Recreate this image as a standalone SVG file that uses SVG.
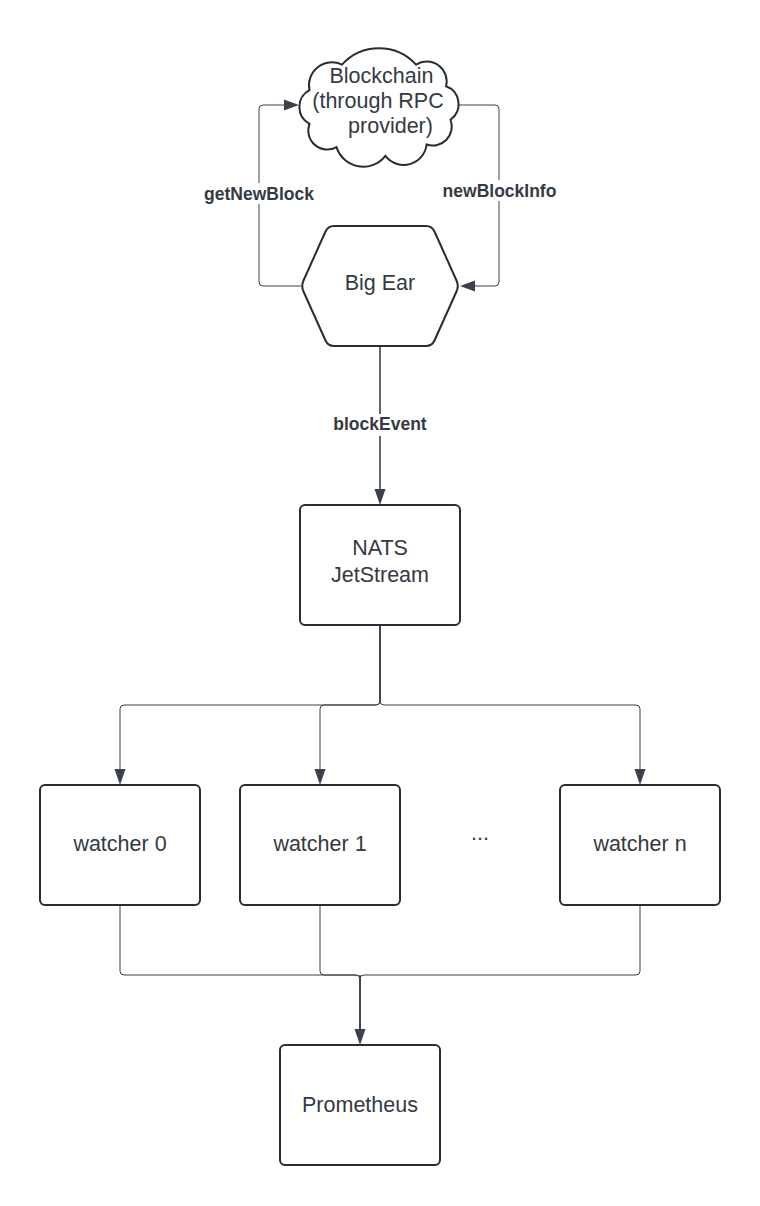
<svg xmlns="http://www.w3.org/2000/svg" width="760" height="1206" viewBox="0 0 760 1206">
<style>
.shape{fill:#ffffff;stroke:#282c33;stroke-width:2;}
.txt{font-family:"Liberation Sans",Arial,sans-serif;font-size:21.5px;fill:#333a44;text-anchor:middle;}
.lbl{font-family:"Liberation Sans",Arial,sans-serif;font-size:17.5px;font-weight:bold;fill:#333a44;text-anchor:middle;}
.conn{fill:none;stroke:#3a414a;stroke-width:1;}
.head{fill:#3a414a;stroke:none;}
</style>
<rect x="0" y="0" width="760" height="1206" fill="#ffffff"/>
<g id="connectors">
  <path class="conn" d="M301,286 H263 Q259,286 259,282 V109 Q259,105 263,105 H286"/>
  <polygon class="head" points="299,105 284,99.5 284,110.5"/>
  <path class="conn" d="M458,105 H495 Q499,105 499,109 V282 Q499,286 495,286 H474"/>
  <polygon class="head" points="460,286 475,280.5 475,291.5"/>
  <path class="conn" style="stroke-width:1.6" d="M380,346 V491"/>
  <polygon class="head" points="380,505 374.5,489 385.5,489"/>
  <path class="conn" style="stroke-width:1.4" d="M380,625 V701"/>
  <path class="conn" d="M380,625 V701 Q380,705 376,705 H124 Q120,705 120,709 V771"/>
  <polygon class="head" points="120,785 114.5,769 125.5,769"/>
  <path class="conn" d="M380,625 V701 Q380,705 376,705 H324 Q320,705 320,709 V771"/>
  <polygon class="head" points="320,785 314.5,769 325.5,769"/>
  <path class="conn" d="M380,625 V701 Q380,705 384,705 H636 Q640,705 640,709 V771"/>
  <polygon class="head" points="640,785 634.5,769 645.5,769"/>
  <path class="conn" d="M120,905 V971 Q120,975 124,975 H356 Q360,975 360,979 V1031"/>
  <path class="conn" d="M320,905 V971 Q320,975 324,975 H356 Q360,975 360,979 V1031"/>
  <path class="conn" d="M640,905 V971 Q640,975 636,975 H364 Q360,975 360,979 V1031"/>
  <path class="conn" style="stroke-width:1.4" d="M360,975 V1031"/>
  <polygon class="head" points="360,1045 354.5,1029 365.5,1029"/>
  <rect x="201" y="183" width="116" height="21" fill="#ffffff"/>
  <text class="lbl" x="259" y="199.5">getNewBlock</text>
  <rect x="440" y="180" width="119" height="21" fill="#ffffff"/>
  <text class="lbl" x="499.5" y="196.5">newBlockInfo</text>
  <rect x="330" y="414" width="100" height="22" fill="#ffffff"/>
  <text class="lbl" x="380" y="429.5">blockEvent</text>
</g>
<g id="blockchain">
  <path class="shape" d="M309.5,123.8 A19,19 0 0 1 309.5,90.2 A23,23 0 0 1 342,64.6 A50,50 0 0 1 416,64.6 A20,20 0 0 1 446.1,86.3 A19,19 0 0 1 450.5,119.7 A19,19 0 0 1 426.6,144.5 A23,23 0 0 1 385.4,155.8 A28,28 0 0 1 336.5,147.1 A19,19 0 0 1 309.5,123.8 Z"/>
  <text class="txt" x="381.5" y="83">Blockchain</text>
  <text class="txt" x="378" y="108">(through RPC</text>
  <text class="txt" x="390.5" y="133">provider)</text>
</g>
<g id="bigear">
  <path class="shape" d="M303.5,280.5 L325.5,231.5 Q328,226 334,226 L426,226 Q432,226 434.5,231.5 L456.5,280.5 Q459,286 456.5,291.5 L434.5,340.5 Q432,346 426,346 L334,346 Q328,346 325.5,340.5 L303.5,291.5 Q301,286 303.5,280.5 Z"/>
  <text class="txt" x="380" y="290">Big Ear</text>
</g>
<g id="nats">
  <rect class="shape" x="300" y="505" width="160" height="120" rx="5"/>
  <text class="txt" x="380" y="555">NATS</text>
  <text class="txt" x="380" y="582">JetStream</text>
</g>
<g id="watcher0">
  <rect class="shape" x="40" y="785" width="160" height="120" rx="5"/>
  <text class="txt" x="120" y="851">watcher 0</text>
</g>
<g id="watcher1">
  <rect class="shape" x="240" y="785" width="160" height="120" rx="5"/>
  <text class="txt" x="320" y="851">watcher 1</text>
</g>
<g id="ellipsis">
  <text class="txt" x="480" y="840">...</text>
</g>
<g id="watchern">
  <rect class="shape" x="560" y="785" width="160" height="120" rx="5"/>
  <text class="txt" x="640" y="851">watcher n</text>
</g>
<g id="prometheus">
  <rect class="shape" x="280" y="1045" width="160" height="120" rx="5"/>
  <text class="txt" x="360" y="1112">Prometheus</text>
</g>
</svg>
